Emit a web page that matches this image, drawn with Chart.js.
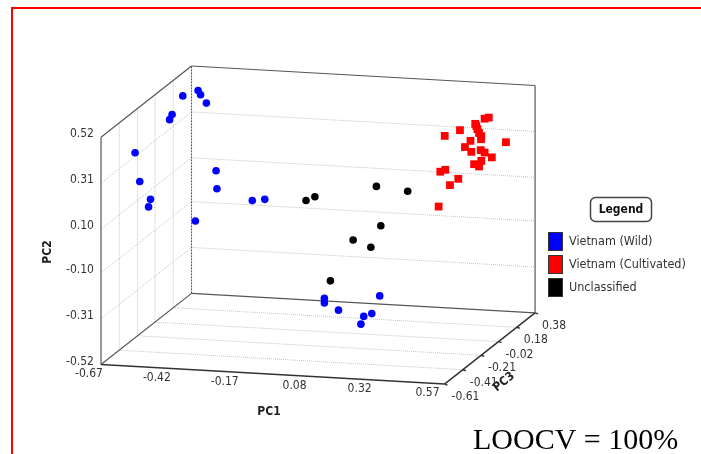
<!DOCTYPE html>
<html>
<head>
<meta charset="utf-8">
<script src="https://cdn.jsdelivr.net/npm/chart.js@4.4.1/dist/chart.umd.min.js"></script>
<style>
  body { margin: 0; background: #fff; }
  #wrap { position: relative; width: 701px; height: 454px; overflow: hidden; }
  #frame { position: absolute; left: 11px; top: 7px; right: -5px; bottom: -5px; border-top: 2px solid #ff0000; border-left: 2px solid #ff0000; }
  canvas { position: absolute; left: 0; top: 0; }
</style>
</head>
<body>
<div id="wrap">
  <canvas id="myChart" width="701" height="454"></canvas>
  <div id="frame"></div>
</div>
<script>
// axis ticks
var pc1Ticks = [-0.67, -0.42, -0.17, 0.08, 0.32, 0.57];
var pc2Ticks = [-0.52, -0.31, -0.10, 0.10, 0.31, 0.52];
var pc3Ticks = [-0.61, -0.41, -0.21, -0.02, 0.18, 0.38];

// [PC1, PC2, PC3]
var wild = [
    [-0.620, 0.468, 0.133], [-0.581, 0.479, 0.182], [-0.572, 0.461, 0.182], [-0.551, 0.424, 0.182],
    [-0.626, 0.415, 0.034], [-0.635, 0.391, 0.034], [-0.645, 0.353, -0.313], [-0.628, 0.223, -0.313],
    [-0.622, 0.109, -0.214], [-0.629, 0.074, -0.214], [-0.516, 0.117, 0.182], [-0.513, 0.035, 0.182],
    [-0.418, -0.045, 0.281], [-0.373, -0.036, 0.281], [-0.558, -0.083, 0.083],
    [-0.027, -0.333, -0.115], [-0.027, -0.355, -0.115], [0.024, -0.384, -0.115], [0.140, -0.343, -0.016],
    [0.115, -0.406, -0.115], [0.144, -0.391, -0.115], [0.121, -0.425, -0.164]
];
var cultivated = [
    [0.342, 0.371, 0.083], [0.397, 0.401, 0.083], [0.452, 0.434, 0.083], [0.486, 0.460, 0.083],
    [0.501, 0.466, 0.083], [0.460, 0.410, 0.083], [0.466, 0.393, 0.083], [0.474, 0.379, 0.083],
    [0.435, 0.355, 0.083], [0.415, 0.325, 0.083], [0.438, 0.305, 0.083], [0.472, 0.315, 0.083],
    [0.486, 0.305, 0.083], [0.512, 0.285, 0.083], [0.563, 0.358, 0.083], [0.474, 0.266, 0.083],
    [0.448, 0.249, 0.083], [0.466, 0.240, 0.083], [0.326, 0.206, 0.083], [0.344, 0.216, 0.083],
    [0.391, 0.178, 0.083], [0.361, 0.147, 0.083], [0.320, 0.046, 0.083], [0.456, 0.425, 0.083],
    [0.473, 0.365, 0.083]
];
var unclassified = [
    [-0.038, -0.287, -0.016], [-0.126, 0.074, -0.016], [-0.094, 0.094, -0.016], [0.128, 0.157, -0.016],
    [0.241, 0.143, -0.016], [0.144, -0.022, -0.016], [0.044, -0.094, -0.016], [0.108, -0.123, -0.016]
];

var FONT = "'DejaVu Sans Condensed', 'DejaVu Sans', sans-serif";

// screen placement of the box: origin corner and the three axis directions
var view = { x0: 97, y0: 368, ux: 349, uy: 20, wx: 92, wy: -73, vy: -233 };

function project(p) {
    var u = (p[0] - pc1Ticks[0]) / (pc1Ticks[5] - pc1Ticks[0]);
    var v = (p[1] - pc2Ticks[0]) / (pc2Ticks[5] - pc2Ticks[0]);
    var w = (p[2] - pc3Ticks[0]) / (pc3Ticks[5] - pc3Ticks[0]);
    return { x: view.x0 + view.ux * u + view.wx * w, y: view.y0 + view.uy * u + view.wy * w + view.vy * v };
}

var box3d = {
    id: 'box3d',
    beforeDatasetsDraw: function (chart) {
        var ctx = chart.ctx;
        var sx = chart.scales.x, sy = chart.scales.y;
        function P(a, b, c) {
            var q = project([a, b, c]);
            return [sx.getPixelForValue(q.x), sy.getPixelForValue(q.y)];
        }
        function seg(a, b) {
            ctx.beginPath();
            ctx.moveTo(a[0], a[1]);
            ctx.lineTo(b[0], b[1]);
            ctx.stroke();
        }
        var x0 = pc1Ticks[0], x1 = pc1Ticks[5];
        var y0 = pc2Ticks[0], y1 = pc2Ticks[5];
        var z0 = pc3Ticks[0], z1 = pc3Ticks[5];

        ctx.save();
        // grid
        ctx.strokeStyle = '#c4c4c4';
        ctx.lineWidth = 1;
        ctx.setLineDash([1, 1]);
        pc2Ticks.slice(1, 5).forEach(function (v) {
            seg(P(x0, v, z1), P(x1, v, z1));
            seg(P(x0, v, z0), P(x0, v, z1));
        });
        pc3Ticks.slice(1, 5).forEach(function (w) {
            seg(P(x0, y0, w), P(x0, y1, w));
            seg(P(x0, y0, w), P(x1, y0, w));
        });
        // back left edge
        ctx.strokeStyle = '#555';
        ctx.setLineDash([2, 1]);
        seg(P(x0, y0, z1), P(x0, y1, z1));
        ctx.setLineDash([]);
        // box edges
        ctx.strokeStyle = '#555';
        ctx.lineWidth = 1.2;
        seg(P(x0, y0, z0), P(x0, y1, z0));
        seg(P(x0, y1, z0), P(x0, y1, z1));
        seg(P(x0, y1, z1), P(x1, y1, z1));
        seg(P(x1, y1, z1), P(x1, y0, z1));
        seg(P(x0, y0, z1), P(x1, y0, z1));
        seg(P(x0, y0, z0), P(x0, y0, z1));
        ctx.strokeStyle = '#333';
        ctx.lineWidth = 1.5;
        seg(P(x0, y0, z0), P(x1, y0, z0));
        seg(P(x1, y0, z0), P(x1, y0, z1));
        // PC3 tick marks
        pc3Ticks.forEach(function (w) {
            var a = P(x1, y0, w);
            seg(a, [a[0] + 3, a[1] + 1]);
        });

        // tick labels
        ctx.fillStyle = '#333';
        ctx.font = '12px ' + FONT;
        ctx.textBaseline = 'middle';
        ctx.textAlign = 'right';
        pc2Ticks.forEach(function (v) {
            var a = P(x0, v, z0);
            ctx.fillText(v.toFixed(2), a[0] - 7, a[1] - 3);
        });
        pc1Ticks.forEach(function (u, i) {
            var a = P(u, y0, z0);
            ctx.fillText(u.toFixed(2), a[0] + 2 - 1.4 * i, a[1] + 9);
        });
        ctx.textAlign = 'left';
        pc3Ticks.forEach(function (w) {
            var a = P(x1, y0, w);
            ctx.fillText(w.toFixed(2), a[0] + 7, a[1] + 13);
        });

        // axis titles
        ctx.fillStyle = '#222';
        ctx.font = 'bold 12px ' + FONT;
        ctx.textAlign = 'center';
        ctx.fillText('PC1', 269, 412);
        ctx.save();
        ctx.translate(48, 252);
        ctx.rotate(-Math.PI / 2);
        ctx.fillText('PC2', 0, 0);
        ctx.restore();
        ctx.save();
        ctx.translate(504, 382);
        ctx.rotate(Math.atan2(view.wy, view.wx));
        ctx.fillText('PC3', 0, 0);
        ctx.restore();
        ctx.restore();
    },
    afterDraw: function (chart) {
        var ctx = chart.ctx;
        ctx.save();
        // legend
        ctx.strokeStyle = '#444';
        ctx.lineWidth = 1.5;
        ctx.beginPath();
        ctx.roundRect(590.5, 197.5, 61, 24, 5);
        ctx.stroke();
        ctx.fillStyle = '#111';
        ctx.font = 'bold 12px ' + FONT;
        ctx.textAlign = 'center';
        ctx.textBaseline = 'middle';
        ctx.fillText('Legend', 621, 210);

        ctx.font = '12.5px ' + FONT;
        ctx.textAlign = 'left';
        chart.data.datasets.forEach(function (ds, i) {
            var top = 232 + i * 23;
            ctx.fillStyle = ds.backgroundColor;
            ctx.fillRect(548, top, 15, 19);
            ctx.strokeStyle = '#333';
            ctx.lineWidth = 1;
            ctx.strokeRect(548.5, top + 0.5, 14, 18);
            ctx.fillStyle = '#333';
            ctx.fillText(ds.label, 569, top + 10);
        });

        ctx.fillStyle = '#000';
        ctx.font = "30px 'Liberation Serif', serif";
        ctx.textBaseline = 'alphabetic';
        ctx.fillText('LOOCV = 100%', 473, 449);
        ctx.restore();
    }
};

var ctx = document.getElementById('myChart');
var myChart = new Chart(ctx, {
    type: 'scatter',
    data: {
        datasets: [{
            label: 'Vietnam (Wild)',
            data: wild.map(project),
            pointStyle: 'circle',
            pointRadius: 3.8,
            backgroundColor: '#0000ff',
            borderWidth: 0,
            clip: false
        }, {
            label: 'Vietnam (Cultivated)',
            data: cultivated.map(project),
            pointStyle: 'rect',
            pointRadius: 5.5,
            backgroundColor: '#ff0000',
            borderWidth: 0,
            clip: false
        }, {
            label: 'Unclassified',
            data: unclassified.map(project),
            pointStyle: 'circle',
            pointRadius: 3.8,
            backgroundColor: '#000000',
            borderWidth: 0,
            clip: false
        }]
    },
    options: {
        responsive: false,
        animation: false,
        layout: { padding: 0 },
        scales: {
            x: { type: 'linear', min: 0, max: 701, display: false },
            y: { type: 'linear', min: 0, max: 454, reverse: true, display: false }
        },
        plugins: {
            legend: { display: false },
            tooltip: { enabled: false }
        }
    },
    plugins: [box3d]
});
</script>
</body>
</html>
